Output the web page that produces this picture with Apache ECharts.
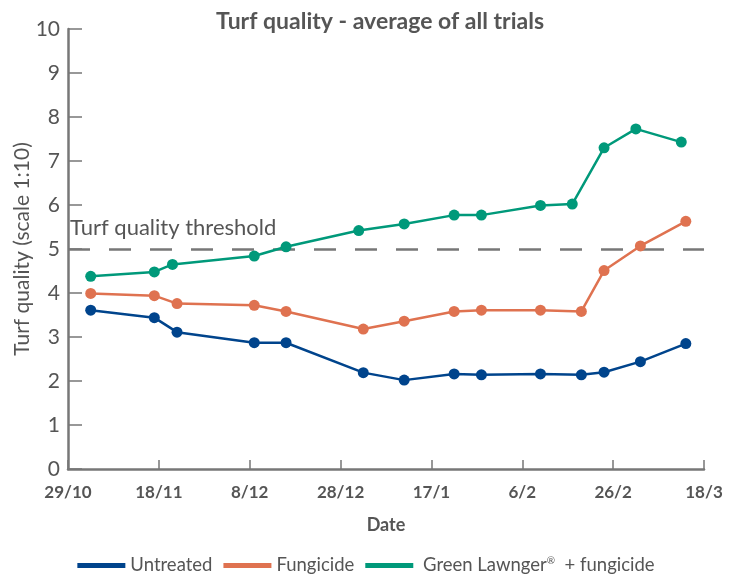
<!DOCTYPE html>
<html>
<head>
<meta charset="utf-8">
<script src="https://cdn.jsdelivr.net/npm/echarts@6/dist/echarts.min.js"></script>
<style>
html,body{margin:0;padding:0;background:#fff;}
#chart{width:732px;height:575px;}
</style>
</head>
<body>
<div id="chart"></div>
<script>
// Data (dates: 2018-2019 season)
var datesMain = ['2018-11-03','2018-11-17','2018-11-22','2018-12-09','2018-12-16','2019-01-02','2019-01-11','2019-01-22','2019-01-28','2019-02-10','2019-02-19','2019-02-24','2019-03-04','2019-03-14'];
var datesLawnger = ['2018-11-03','2018-11-17','2018-11-21','2018-12-09','2018-12-16','2019-01-01','2019-01-11','2019-01-22','2019-01-28','2019-02-10','2019-02-17','2019-02-24','2019-03-03','2019-03-13'];
var untreated = [3.61, 3.44, 3.11, 2.87, 2.87, 2.19, 2.02, 2.16, 2.14, 2.16, 2.14, 2.20, 2.44, 2.85];
var fungicide = [3.99, 3.94, 3.76, 3.72, 3.58, 3.18, 3.36, 3.58, 3.61, 3.61, 3.58, 4.51, 5.07, 5.63];
var lawnger = [4.38, 4.48, 4.65, 4.84, 5.05, 5.42, 5.57, 5.77, 5.77, 5.99, 6.02, 7.30, 7.73, 7.43];
var seriesNames = ['Untreated', 'Fungicide', 'Green Lawnger\u00AE + fungicide'];
var thresholdValue = 5;
var thresholdLabel = 'Turf quality threshold';
var axisMinDate = '2018-10-29';
var axisMaxDate = '2019-03-18';
var tickStepDays = 20;

var DAY = 24 * 3600 * 1000;
var t0 = Date.parse(axisMinDate + 'T00:00:00Z');
function dayOf(s) { return Math.round((Date.parse(s + 'T00:00:00Z') - t0) / DAY); }
function pair(d, v) { return d.map(function (x, i) { return [dayOf(x), v[i]]; }); }

var colors = ['#00448c', '#df7250', '#00997a'];
var FONT = 'Lato';
var chart = echarts.init(document.getElementById('chart'));

function mkSeries(name, data, color, extra) {
  var s = {
    name: name, type: 'line', data: data,
    symbol: 'circle', symbolSize: 11,
    lineStyle: { color: color, width: 2.5 },
    itemStyle: { color: color },
    emphasis: { disabled: true },
    z: 3
  };
  if (extra) Object.assign(s, extra);
  return s;
}

chart.setOption({
  animation: false,
  textStyle: { fontFamily: FONT },
  title: {
    text: 'Turf quality - average of all trials',
    left: 375, top: 5, textAlign: 'center',
    textStyle: { fontFamily: FONT, fontWeight: 'bold', fontSize: 23, color: '#555' }
  },
  grid: { left: 68, right: 28, top: 29, bottom: 106, containLabel: false, outerBoundsMode: 'none' },
  legend: {
    top: 551, left: 'center',
    itemWidth: 48, itemHeight: 5, itemGap: 11,
    icon: 'rect',
    data: seriesNames,
    textStyle: {
      fontFamily: FONT, fontSize: 18.5, color: '#555',
      rich: { sup: { fontSize: 10, verticalAlign: 'top', padding: [0, 0, 9, 0], fontFamily: FONT, color: '#555' } }
    },
    formatter: function (n) {
      if (n.indexOf('\u00AE') >= 0) return ' ' + n.replace('\u00AE ', '{sup|\u00AE}  ');
      return n;
    }
  },
  xAxis: {
    type: 'value', min: 0, max: dayOf(axisMaxDate), interval: tickStepDays,
    name: 'Date', nameLocation: 'middle', nameGap: 47, nameMoveOverlap: false,
    nameTextStyle: { fontFamily: FONT, fontWeight: 'bold', fontSize: 18, color: '#555' },
    axisLine: { lineStyle: { color: '#777', width: 2.5 } },
    axisTick: { show: true, inside: true, length: 9, lineStyle: { color: '#777', width: 1.5 } },
    splitLine: { show: false },
    axisLabel: {
      fontFamily: FONT, fontWeight: 'bold', fontSize: 17, color: '#555', margin: 15,
      showMinLabel: true, showMaxLabel: true,
      formatter: function (v) { var d = new Date(t0 + v * DAY); return d.getUTCDate() + '/' + (d.getUTCMonth() + 1); }
    }
  },
  yAxis: {
    type: 'value', min: 0, max: 10, interval: 1,
    name: 'Turf quality (scale 1:10)', nameLocation: 'middle', nameGap: 35, nameMoveOverlap: false,
    nameTextStyle: { fontFamily: FONT, fontSize: 21, color: '#555' },
    axisLine: { show: true, lineStyle: { color: '#777', width: 2.5 } },
    axisTick: { show: true, inside: true, length: 14, lineStyle: { color: '#777', width: 1.5 } },
    splitLine: { show: false },
    axisLabel: { fontFamily: FONT, fontSize: 21, color: '#555', margin: 8 }
  },
  series: [
    mkSeries(seriesNames[0], pair(datesMain, untreated), colors[0], {
      markLine: {
        silent: true, symbol: ['none', 'none'],
        lineStyle: { color: '#777', type: [22, 19], width: 2.5 },
        label: {
          show: true, position: 'insideStartTop', formatter: thresholdLabel,
          fontFamily: FONT, fontSize: 22, color: '#555', distance: [2, 10]
        },
        data: [{ yAxis: thresholdValue }],
        z: 1
      }
    }),
    mkSeries(seriesNames[1], pair(datesMain, fungicide), colors[1]),
    mkSeries(seriesNames[2], pair(datesLawnger, lawnger), colors[2])
  ]
});
</script>
</body>
</html>
